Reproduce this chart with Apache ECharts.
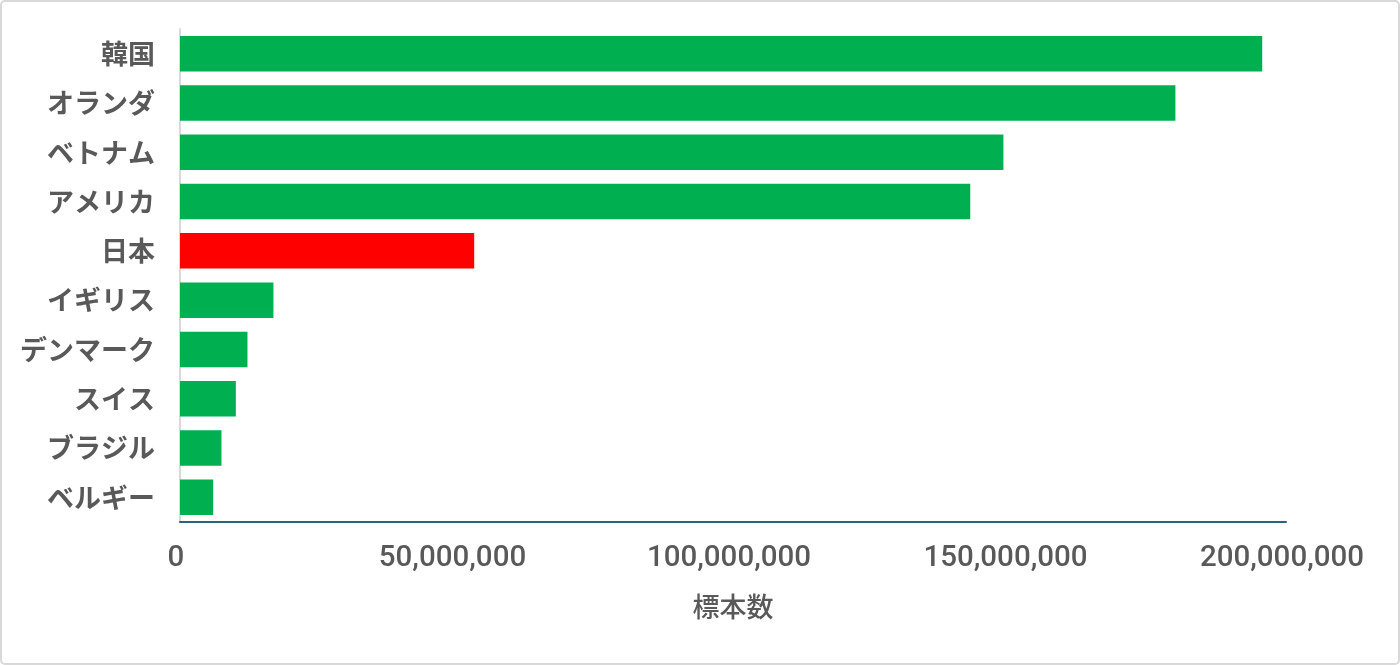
<!DOCTYPE html>
<html>
<head>
<meta charset="utf-8">
<script src="https://cdn.jsdelivr.net/npm/echarts@6/dist/echarts.min.js"></script>
<style>
html,body{margin:0;padding:0;background:#fff;}
#c{width:1400px;height:665px;}
</style>
</head>
<body>
<div id="c"></div>
<script>
const categories = ['韓国','オランダ','ベトナム','アメリカ','日本','イギリス','デンマーク','スイス','ブラジル','ベルギー'];
const values = [195700000, 180000000, 148900000, 142900000, 53200000, 16900000, 12200000, 10100000, 7500000, 6000000];
const highlight = '日本';
const xTicks = [0, 50000000, 100000000, 150000000, 200000000];
const axisName = '標本数';

const chart = echarts.init(document.getElementById('c'));
const cats = categories.slice().reverse();
const vals = values.slice().reverse();
chart.setOption({
  animation: false,
  backgroundColor: '#ffffff',
  graphic: [{
    type: 'rect',
    shape: { x: 1, y: 1, width: 1398, height: 663, r: 4 },
    style: { fill: 'none', stroke: '#d9d9d9', lineWidth: 2 },
    silent: true
  }],
  grid: { left: 180, right: 114, top: 29, bottom: 143, containLabel: false },
  xAxis: {
    type: 'value',
    min: xTicks[0],
    max: xTicks[xTicks.length - 1],
    interval: xTicks[1] - xTicks[0],
    name: axisName,
    nameLocation: 'middle',
    nameGap: 71,
    nameTextStyle: { color: '#595959', fontSize: 27, fontFamily: 'Noto Sans CJK JP', fontWeight: 500 },
    axisLine: { show: true, lineStyle: { color: '#2f607c', width: 2 } },
    axisTick: { show: false },
    splitLine: { show: false },
    axisLabel: {
      color: '#595959', fontSize: 29.5, fontFamily: 'Roboto', fontWeight: 500, margin: 22,
      padding: [0, 8, 0, 0],
      formatter: v => v.toLocaleString('en-US')
    }
  },
  yAxis: {
    type: 'category',
    data: cats,
    axisLine: { show: true, lineStyle: { color: '#d9d9d9', width: 2 } },
    axisTick: { show: false },
    axisLabel: { color: '#595959', fontSize: 27, fontWeight: 'bold', fontFamily: 'Noto Sans CJK JP', margin: 25 }
  },
  series: [{
    type: 'bar',
    data: vals.map((v, i) => ({ value: v, itemStyle: { color: cats[i] === highlight ? '#ff0000' : '#00b050' } })),
    barCategoryGap: '28%'
  }]
});
</script>
</body>
</html>
